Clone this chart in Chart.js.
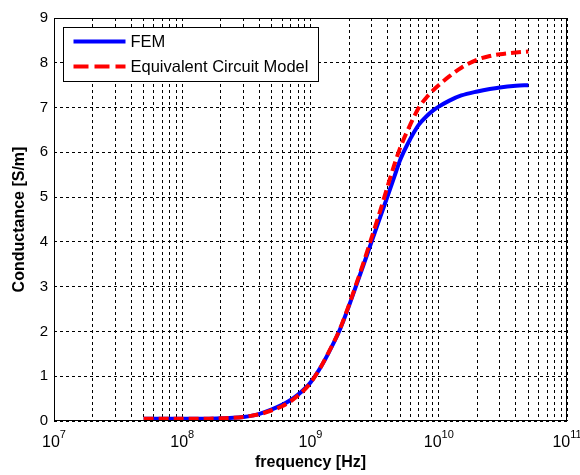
<!DOCTYPE html>
<html>
<head>
<meta charset="utf-8">
<script src="https://cdn.jsdelivr.net/npm/chart.js@4"></script>
<style>
html,body{margin:0;padding:0;background:#fff;}
#wrap{width:580px;height:475px;}
</style>
</head>
<body>
<div id="wrap"><canvas id="c" width="580" height="475"></canvas></div>
<script>
// ---- data ----
const frequencies = [5e7, 7e7, 1e8, 1.5e8, 2e8, 2.5e8, 3e8, 3.5e8, 4e8, 5e8, 6e8, 7e8, 8e8, 9e8,
  1e9, 1.2e9, 1.4e9, 1.7e9, 2e9, 2.3e9, 2.6e9, 3e9, 3.5e9, 4e9, 4.5e9, 5e9, 6e9, 7e9, 8e9, 9e9,
  1e10, 1.2e10, 1.5e10, 2e10, 2.5e10, 3e10, 4e10, 5e10];
const femValues = [0.05, 0.05, 0.05, 0.05, 0.06, 0.07, 0.09, 0.12, 0.16, 0.26, 0.36, 0.47, 0.59, 0.72,
  0.86, 1.2, 1.55, 2.05, 2.58, 3.07, 3.5, 4.01, 4.56, 5.03, 5.45, 5.83, 6.3, 6.62, 6.8, 6.93,
  7.02, 7.15, 7.27, 7.36, 7.415, 7.45, 7.485, 7.5];
const ecmValues = [0.05, 0.05, 0.05, 0.05, 0.06, 0.07, 0.09, 0.12, 0.15, 0.24, 0.33, 0.44, 0.57, 0.7,
  0.85, 1.2, 1.56, 2.06, 2.6, 3.1, 3.55, 4.1, 4.7, 5.25, 5.72, 6.1, 6.62, 7.0, 7.22, 7.38,
  7.5, 7.69, 7.89, 8.07, 8.15, 8.19, 8.23, 8.25];
const seriesNames = ['FEM', 'Equivalent Circuit Model'];
const xMajorTicks = [1e7, 1e8, 1e9, 1e10, 1e11];
const xTickBase = '10';
const xTickExponents = ['7', '8', '9', '10', '11'];
const yTickValues = [0, 1, 2, 3, 4, 5, 6, 7, 8, 9];
const xTitle = 'frequency [Hz]';
const yTitle = 'Conductance [S/m]';

const femPts = frequencies.map((f, i) => ({x: f, y: femValues[i]}));
const ecmPts = frequencies.map((f, i) => ({x: f, y: ecmValues[i]}));

const FONT = "'Liberation Sans', Arial, Helvetica, sans-serif";

const framePlugin = {
  id: 'frame',
  afterDatasetsDraw(chart) {
    const {ctx, chartArea: a} = chart;
    ctx.save();
    ctx.strokeStyle = '#000';
    ctx.lineWidth = 1;
    ctx.setLineDash([]);
    const l = Math.round(a.left) + 0.5, t = Math.round(a.top) + 0.5;
    const r = Math.round(a.right) - 0.5, b = Math.round(a.bottom) - 0.5;
    ctx.strokeRect(l, t, r - l, b - t);
    ctx.restore();
  }
};

// power-of-ten tick labels with raised exponents, placed by the x scale
const expTickPlugin = {
  id: 'expTicks',
  afterDraw(chart) {
    const {ctx} = chart;
    const xs = chart.scales.x;
    const baseY = chart.chartArea.bottom + 26;
    ctx.save();
    ctx.fillStyle = '#000';
    ctx.textBaseline = 'alphabetic';
    ctx.textAlign = 'left';
    xMajorTicks.forEach((v, i) => {
      const px = xs.getPixelForValue(v);
      ctx.font = "16px " + FONT;
      const wb = ctx.measureText(xTickBase).width;
      ctx.font = "11px " + FONT;
      const we = ctx.measureText(xTickExponents[i]).width;
      const x0 = px - (wb + we) / 2;
      ctx.font = "16px " + FONT;
      ctx.fillText(xTickBase, x0, baseY);
      ctx.font = "11px " + FONT;
      ctx.fillText(xTickExponents[i], x0 + wb, baseY - 9);
    });
    ctx.restore();
  }
};

const legendPlugin = {
  id: 'boxLegend',
  afterDraw(chart) {
    const {ctx, chartArea: a} = chart;
    const x0 = a.left + 9.5, y0 = a.top + 9.5, w = 255, h = 54;
    ctx.save();
    ctx.fillStyle = '#fff';
    ctx.fillRect(x0, y0, w, h);
    ctx.strokeStyle = '#000';
    ctx.lineWidth = 1;
    ctx.setLineDash([]);
    ctx.strokeRect(x0, y0, w, h);
    const ds = chart.data.datasets;
    const rows = [y0 + 14, y0 + 39];
    ds.forEach((d, i) => {
      ctx.beginPath();
      ctx.strokeStyle = d.borderColor;
      ctx.lineWidth = 4;
      ctx.setLineDash(i === 1 ? [15, 6] : []);
      ctx.moveTo(x0 + 10, rows[i]);
      ctx.lineTo(x0 + 62, rows[i]);
      ctx.stroke();
      ctx.setLineDash([]);
      ctx.fillStyle = '#000';
      ctx.font = "16.5px " + FONT;
      ctx.textBaseline = 'middle';
      ctx.textAlign = 'left';
      ctx.fillText(d.label, x0 + 67, rows[i] + 1);
    });
    ctx.restore();
  }
};

new Chart(document.getElementById('c'), {
  type: 'line',
  data: {
    datasets: [
      {label: seriesNames[0], data: femPts, borderColor: '#0000ff', backgroundColor: '#0000ff',
       borderWidth: 4, pointRadius: 0, cubicInterpolationMode: 'monotone', order: 1},
      {label: seriesNames[1], data: ecmPts, borderColor: '#ff0000', backgroundColor: '#ff0000',
       borderWidth: 4, borderDash: [10, 5], pointRadius: 0, cubicInterpolationMode: 'monotone', order: 0}
    ]
  },
  options: {
    responsive: false,
    animation: false,
    events: [],
    layout: {padding: {left: 0, top: 18, right: 13, bottom: 0}},
    plugins: {legend: {display: false}, tooltip: {enabled: false}},
    scales: {
      x: {
        type: 'logarithmic',
        min: 1e7, max: 1e11,
        afterBuildTicks(scale) {
          const t = [];
          for (let e = 7; e < 11; e++) {
            for (let s = 1; s <= 9; s++) t.push({value: s * Math.pow(10, e)});
          }
          t.push({value: 1e11});
          scale.ticks = t;
        },
        afterFit(scale) { scale.height = 54; scale.paddingLeft = 0; scale.paddingRight = 0; },
        ticks: {
          autoSkip: false, maxRotation: 0, minRotation: 0, padding: 8,
          color: '#000', font: {family: FONT, size: 15},
          callback() { return ''; }
        },
        grid: {color: '#000', lineWidth: 1, drawTicks: false},
        border: {display: false, dash: [3, 3]},
        title: {display: true, text: xTitle, color: '#000',
                font: {family: FONT, size: 16, weight: 'bold'}, padding: {top: 0, bottom: 3}}
      },
      y: {
        type: 'linear',
        min: 0, max: 9,
        afterBuildTicks(scale) { scale.ticks = yTickValues.map(v => ({value: v})); },
        afterFit(scale) { scale.width = 54; scale.paddingTop = 0; scale.paddingBottom = 0; },
        ticks: {padding: 6, color: '#000', font: {family: FONT, size: 15}},
        grid: {color: '#000', lineWidth: 1, drawTicks: false},
        border: {display: false, dash: [3, 3]},
        title: {display: true, text: yTitle, color: '#000',
                font: {family: FONT, size: 16, weight: 'bold'}, padding: {top: 10, bottom: 0}}
      }
    }
  },
  plugins: [framePlugin, expTickPlugin, legendPlugin]
});
</script>
</body>
</html>
